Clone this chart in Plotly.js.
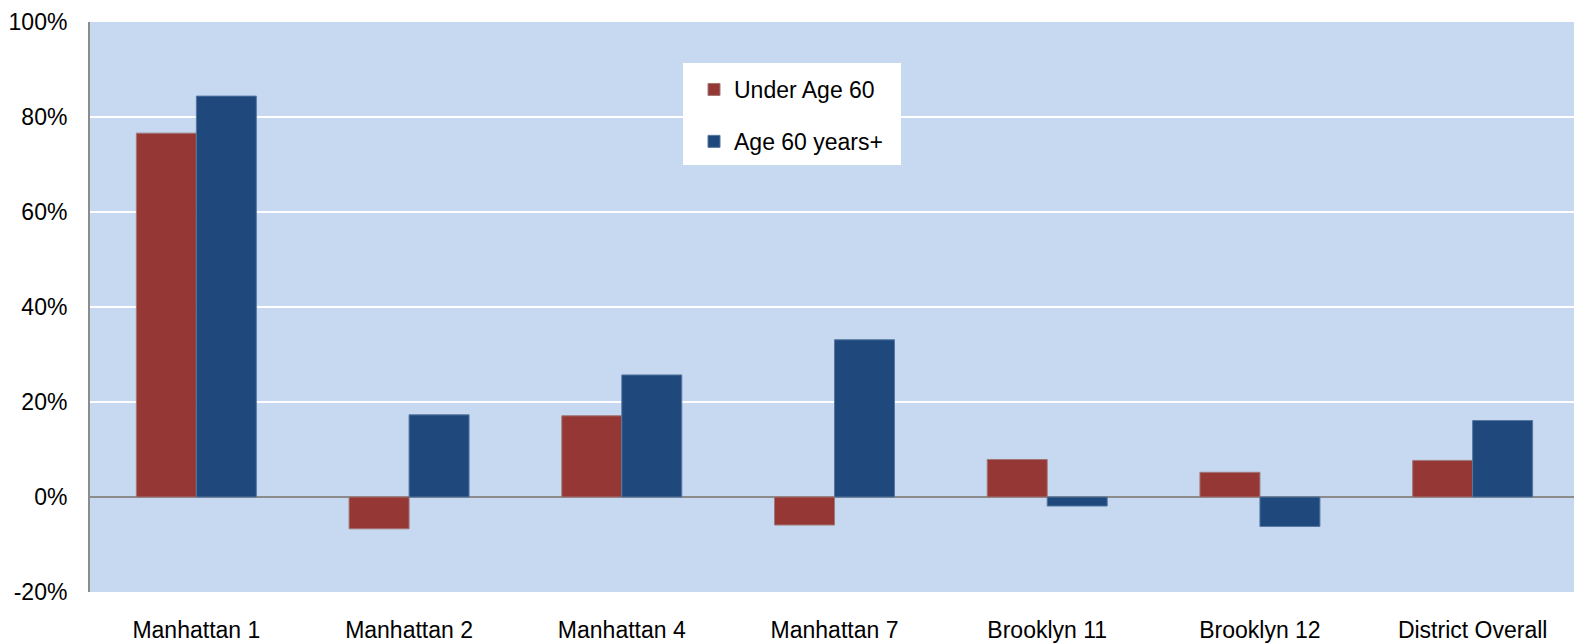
<!DOCTYPE html>
<html>
<head>
<meta charset="utf-8">
<script src="https://cdn.plot.ly/plotly-3.0.1.min.js"></script>
<style>
html,body{margin:0;padding:0;background:#fff;}
#chart{width:1574px;height:643px;}
</style>
</head>
<body>
<div id="chart"></div>
<script>
const categories = ["Manhattan 1", "Manhattan 2", "Manhattan 4", "Manhattan 7", "Brooklyn 11", "Brooklyn 12", "District Overall"];
const underAge60 = [0.766, -0.067, 0.171, -0.059, 0.079, 0.052, 0.077];
const age60Plus = [0.844, 0.173, 0.257, 0.331, -0.019, -0.062, 0.161];
const yTickVals = [-0.2, 0, 0.2, 0.4, 0.6, 0.8, 1.0];
const yTickText = ["-20%", "0%", "20%", "40%", "60%", "80%", "100%"];

const traces = [
  {type: "bar", name: "Under Age 60", x: categories, y: underAge60,
   marker: {color: "#953735", line: {color: "#A07878", width: 1}}, legendgroup: "a"},
  {type: "bar", name: "Age 60 years+", x: categories, y: age60Plus,
   marker: {color: "#1F497D", line: {color: "#5577A0", width: 1}}, legendgroup: "b"}
];

const L = 90, W = 1484, B = 592, H = 570;
const layout = {
  width: 1574, height: 643,
  margin: {l: 90, r: 0, t: 22, b: 51},
  paper_bgcolor: "#ffffff",
  plot_bgcolor: "#C6D9F1",
  font: {family: "Liberation Sans, Arial, sans-serif", color: "#000"},
  barmode: "group",
  bargap: 0.436,
  bargroupgap: 0,
  showlegend: true,
  legend: {
    x: (694 - L) / W, xanchor: "left",
    y: (B - 68) / H, yanchor: "top",
    bgcolor: "rgba(0,0,0,0)", borderwidth: 0,
    font: {size: 23, color: "#000"},
    traceorder: "grouped", tracegroupgap: 19
  },
  shapes: [{
    type: "rect", xref: "paper", yref: "paper", layer: "above",
    x0: (683 - L) / W, x1: (901 - L) / W,
    y0: (B - 165) / H, y1: (B - 63) / H,
    fillcolor: "#ffffff", line: {width: 0}
  }],
  xaxis: {
    type: "category",
    range: [-0.5, 6.5 - 5 / 212.7],
    showgrid: false, zeroline: false, showline: false,
    ticks: "", tickfont: {size: 23}, ticklabelstandoff: 22,
    fixedrange: true
  },
  yaxis: {
    range: [-0.2, 1.0],
    tickvals: yTickVals, ticktext: yTickText,
    showgrid: true, gridcolor: "#ffffff", gridwidth: 1.5,
    zeroline: true, zerolinecolor: "#8c8c8c", zerolinewidth: 2,
    showline: true, linecolor: "#8c8c8c", linewidth: 2,
    ticks: "", tickfont: {size: 23}, ticklabelstandoff: 16,
    fixedrange: true
  }
};

Plotly.newPlot("chart", traces, layout, {displayModeBar: false, staticPlot: true});
</script>
</body>
</html>
